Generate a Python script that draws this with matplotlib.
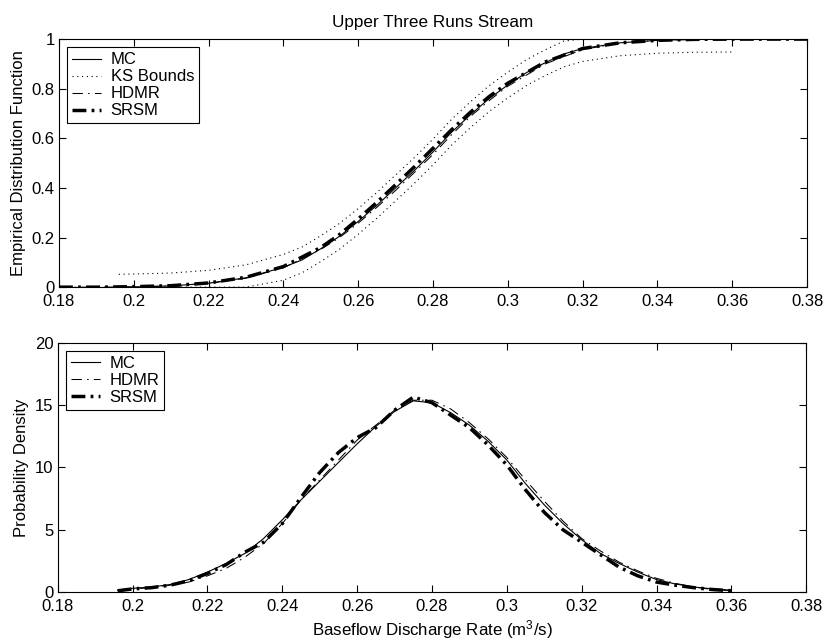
import matplotlib
import numpy as np

matplotlib.use("Agg")
import matplotlib.pyplot as plt
from matplotlib.ticker import FuncFormatter


# ---- CDF panel ----
mc_x = [0.196, 0.20, 0.21, 0.22, 0.23, 0.24, 0.245, 0.25, 0.255, 0.26, 0.265,
        0.27, 0.275, 0.28, 0.285, 0.29, 0.295, 0.30, 0.305, 0.31, 0.315, 0.32,
        0.33, 0.34, 0.35, 0.36]
mc_cdf = [0.0, 0.001, 0.005, 0.016, 0.038, 0.080, 0.110, 0.155, 0.205, 0.265,
          0.330, 0.400, 0.470, 0.545, 0.625, 0.695, 0.760, 0.815, 0.865, 0.905,
          0.940, 0.962, 0.985, 0.995, 0.999, 1.0]
ks_upper = [0.052, 0.053, 0.057, 0.068, 0.090, 0.132, 0.162, 0.207, 0.257,
            0.317, 0.382, 0.452, 0.522, 0.597, 0.677, 0.747, 0.812, 0.867,
            0.917, 0.957, 0.992, 1.0, 1.0, 1.0, 1.0, 1.0]
ks_lower = [0.0, 0.0, 0.0, 0.0, 0.0, 0.028, 0.058, 0.103, 0.153, 0.213, 0.278,
            0.348, 0.418, 0.493, 0.573, 0.643, 0.708, 0.763, 0.813, 0.853,
            0.888, 0.910, 0.933, 0.943, 0.947, 0.948]

model_x = [0.18, 0.19, 0.20, 0.21, 0.22, 0.23, 0.24, 0.25, 0.255, 0.26, 0.265,
           0.27, 0.275, 0.28, 0.285, 0.29, 0.295, 0.30, 0.31, 0.32, 0.33,
           0.34, 0.35, 0.36, 0.37, 0.38]
hdmr_cdf = [0.0, 0.0, 0.001, 0.005, 0.015, 0.036, 0.078, 0.152, 0.200, 0.258,
            0.322, 0.390, 0.462, 0.535, 0.615, 0.688, 0.752, 0.810, 0.900,
            0.958, 0.984, 0.995, 0.999, 1.0, 1.0, 1.0]
srsm_cdf = [0.0, 0.0, 0.002, 0.006, 0.017, 0.040, 0.083, 0.160, 0.212, 0.275,
            0.342, 0.413, 0.485, 0.560, 0.635, 0.705, 0.768, 0.822, 0.908,
            0.962, 0.985, 0.995, 0.999, 1.0, 1.0, 1.0]

# ---- PDF panel ----
pdf_x = [0.196, 0.20, 0.205, 0.21, 0.215, 0.22, 0.225, 0.23, 0.235, 0.24,
         0.245, 0.25, 0.255, 0.26, 0.265, 0.27, 0.275, 0.28, 0.285, 0.29,
         0.295, 0.30, 0.305, 0.31, 0.315, 0.32, 0.325, 0.33, 0.335, 0.34,
         0.345, 0.35, 0.355, 0.36]
mc_pdf = [0.15, 0.3, 0.4, 0.6, 1.0, 1.6, 2.3, 3.1, 4.3, 5.8, 7.4, 8.9, 10.4,
          11.9, 13.3, 14.5, 15.35, 15.2, 14.4, 13.4, 12.1, 10.6, 8.7, 7.0,
          5.5, 4.2, 3.1, 2.3, 1.6, 1.0, 0.65, 0.4, 0.25, 0.15]
hdmr_pdf = [0.1, 0.25, 0.35, 0.55, 0.8, 1.3, 1.9, 2.8, 3.9, 5.5, 7.4, 9.0,
            10.6, 12.2, 13.4, 14.6, 15.4, 15.4, 14.7, 13.6, 12.3, 10.8, 9.0,
            7.3, 5.7, 4.3, 3.3, 2.4, 1.7, 1.1, 0.7, 0.4, 0.2, 0.1]
srsm_pdf = [0.1, 0.25, 0.35, 0.55, 0.9, 1.5, 2.2, 3.2, 4.0, 5.5, 7.6, 9.6,
            11.2, 12.4, 13.2, 14.6, 15.65, 15.2, 14.2, 13.2, 11.8, 10.2, 8.2,
            6.4, 5.0, 4.0, 3.0, 2.0, 1.3, 0.8, 0.55, 0.35, 0.2, 0.1]

x_ticks = np.arange(0.18, 0.3801, 0.02)

plt.rcParams.update(
    {
        "font.family": ["Liberation Sans", "DejaVu Sans"],
        "mathtext.fontset": "custom",
        "mathtext.rm": "Liberation Sans",
        "mathtext.it": "Liberation Sans:italic",
        "font.size": 12,
        "axes.linewidth": 0.8,
    }
)

MC_STYLE = dict(color="black", linewidth=0.8, linestyle="-")
KS_STYLE = dict(color="black", linewidth=0.8, linestyle=(0, (1, 3.3)))
HDMR_STYLE = dict(color="black", linewidth=0.75, linestyle=(0, (10, 5, 1.5, 5)))
SRSM_STYLE = dict(color="black", linewidth=2.5, linestyle=(0, (4, 1.5, 0.8, 1.5)))


def style_axes(ax):
    ax.set_xlim(0.18, 0.38)
    ax.set_xticks(x_ticks)
    ax.xaxis.set_major_formatter(FuncFormatter(lambda v, _: f"{v:g}"))
    ax.yaxis.set_major_formatter(FuncFormatter(lambda v, _: f"{v:g}"))
    ax.tick_params(direction="in", length=5, width=0.8, top=True, right=True,
                   labelsize=12)
    ax.tick_params(axis="x", pad=5)
    ax.tick_params(axis="y", pad=3)


def add_legend(ax):
    leg = ax.legend(loc="upper left", frameon=True, fancybox=False,
                    edgecolor="black", framealpha=1, fontsize=12,
                    handlelength=1.75, handletextpad=0.55, labelspacing=0.12,
                    borderpad=0.3, borderaxespad=0.5)
    leg.get_frame().set_linewidth(0.8)


fig = plt.figure(figsize=(8.26, 6.41), dpi=100)
ax1 = fig.add_axes([0.0714, 0.552, 0.9056, 0.387])
ax2 = fig.add_axes([0.0700, 0.0764, 0.9060, 0.3886])

ax1.plot(mc_x, mc_cdf, label="MC", **MC_STYLE)
ax1.plot(mc_x, ks_upper, label="KS Bounds", **KS_STYLE)
ax1.plot(mc_x, ks_lower, **KS_STYLE)
ax1.plot(model_x, hdmr_cdf, label="HDMR", **HDMR_STYLE)
ax1.plot(model_x, srsm_cdf, label="SRSM", **SRSM_STYLE)
style_axes(ax1)
ax1.set_ylim(0, 1)
ax1.set_yticks(np.arange(0, 1.01, 0.2))
ax1.set_ylabel("Empirical Distribution Function", fontsize=12, labelpad=4)
ax1.set_title("Upper Three Runs Stream", fontsize=12.3, pad=9)
add_legend(ax1)

ax2.plot(pdf_x, mc_pdf, label="MC", **MC_STYLE)
ax2.plot(pdf_x, hdmr_pdf, label="HDMR", **HDMR_STYLE)
ax2.plot(pdf_x, srsm_pdf, label="SRSM", **SRSM_STYLE)
style_axes(ax2)
ax2.set_ylim(0, 20)
ax2.set_yticks(np.arange(0, 20.1, 5))
ax2.set_ylabel("Probability Density", fontsize=12, labelpad=4)
ax2.set_xlabel("Baseflow Discharge Rate (m$^3$/s)", fontsize=12.2, labelpad=3)
add_legend(ax2)

fig.savefig("out.png", dpi=100, facecolor="white")
